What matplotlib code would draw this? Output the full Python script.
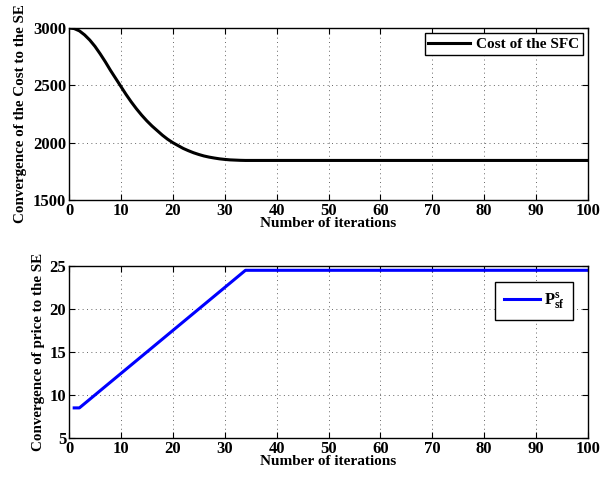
import numpy as np
import matplotlib
matplotlib.use("Agg")
import matplotlib.pyplot as plt

# cost of the SFC, read per iteration (0..34), flat afterwards
cost_head = [3000, 2995, 2975, 2940, 2895, 2840, 2775, 2705, 2630, 2560,
             2490, 2420, 2355, 2295, 2240, 2190, 2145, 2105, 2065, 2030,
             2000, 1975, 1950, 1930, 1912, 1897, 1884, 1874, 1866, 1859,
             1854, 1850, 1848, 1846, 1845]
cost_flat = 1845
iters = np.arange(0, 101)
cost = np.array(cost_head + [cost_flat] * (len(iters) - len(cost_head)))

# price P_sf^s: vertices of the piecewise-linear curve
price_x = [1, 2, 34, 100]
price_y = [8.5, 8.5, 24.5, 24.5]

plt.rcParams["font.family"] = ["Liberation Serif", "DejaVu Serif"]
plt.rcParams["font.weight"] = "bold"
plt.rcParams["mathtext.fontset"] = "custom"
plt.rcParams["mathtext.rm"] = "Liberation Serif:bold"
plt.rcParams["mathtext.bf"] = "Liberation Serif:bold"
plt.rcParams["mathtext.it"] = "Liberation Serif:bold"

fig = plt.figure(figsize=(6.13, 4.79), dpi=100)
W, H = 613, 479
ax1 = fig.add_axes([69 / W, 1 - 200 / H, (588 - 69) / W, (200 - 28) / H])
ax2 = fig.add_axes([69 / W, 1 - 438 / H, (588 - 69) / W, (438 - 266) / H])


def style(ax):
    ax.set_xlim(0, 100)
    ax.set_xticks(range(0, 101, 10))
    ax.grid(True, linestyle=(0, (1, 3.5)), color="0.4", linewidth=0.7)
    ax.tick_params(direction="in", top=True, right=True, labelsize=12,
                   length=4, width=0.8, pad=2)
    for lab in ax.get_xticklabels() + ax.get_yticklabels():
        lab.set_fontweight("bold")
    for s in ax.spines.values():
        s.set_linewidth(1.0)
    ax.set_xlabel("Number of iterations", fontsize=11, fontweight="bold",
                  labelpad=-1)


ax1.plot(iters, cost, color="black", linewidth=2.2, label="Cost of the SFC")
ax1.set_ylim(1500, 3000)
ax1.set_yticks([1500, 2000, 2500, 3000])
style(ax1)
ax1.set_ylabel("Convergence of the Cost to the SE", fontsize=10.8,
               fontweight="bold", labelpad=4)
leg = ax1.legend(loc="upper right", fontsize=11, fancybox=False,
                 edgecolor="black", framealpha=1, borderpad=0.25,
                 handlelength=2.7, handletextpad=0.4, borderaxespad=0.35)
leg.get_frame().set_linewidth(1.0)

ax2.plot(price_x, price_y, color="blue", linewidth=2.2,
         label=r"$\mathbf{P^{s}_{sf}}$")
ax2.set_ylim(5, 25)
ax2.set_yticks([5, 10, 15, 20, 25])
style(ax2)
ax2.set_ylabel("Convergence of price to the SE", fontsize=10.8,
               fontweight="bold", labelpad=3)
leg2 = ax2.legend(loc="upper right", bbox_to_anchor=(0.971, 0.907),
                  fontsize=12, fancybox=False, edgecolor="black",
                  framealpha=1, borderpad=0.5, handlelength=2.2,
                  handletextpad=0.2, borderaxespad=0)
leg2.get_frame().set_linewidth(1.0)

fig.savefig("out.png", dpi=100)
